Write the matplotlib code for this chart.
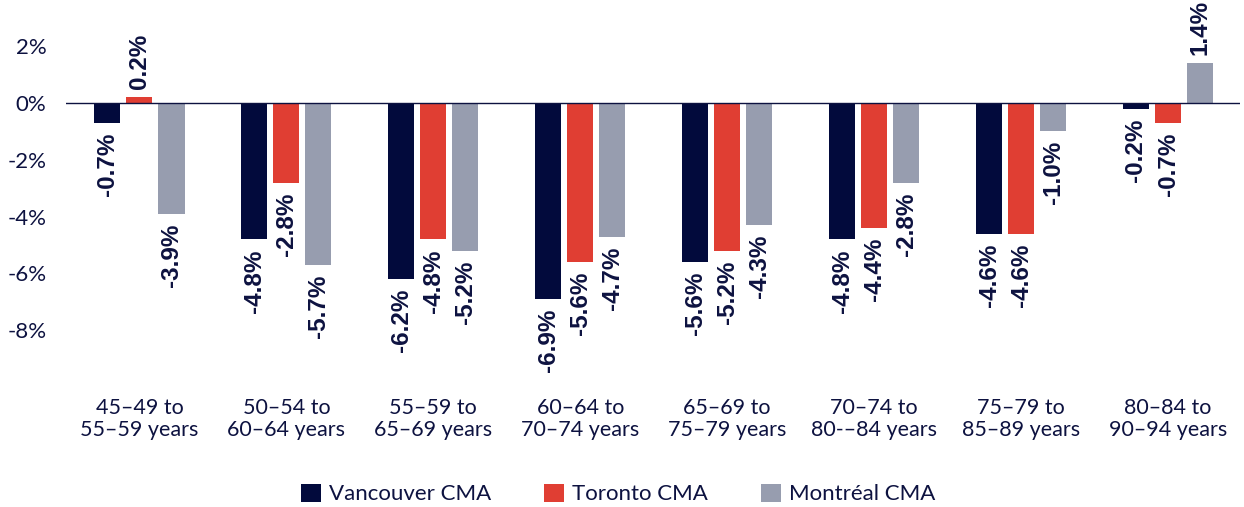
import matplotlib
matplotlib.use("Agg")
import matplotlib.pyplot as plt
import numpy as np

categories = ["45–49 to\n55–59 years", "50–54 to\n60–64 years", "55–59 to\n65–69 years",
              "60–64 to\n70–74 years", "65–69 to\n75–79 years", "70–74 to\n80-–84 years",
              "75–79 to\n85–89 years", "80–84 to\n90–94 years"]
series_names = ["Vancouver CMA", "Toronto CMA", "Montréal CMA"]
vancouver = [-0.7, -4.8, -6.2, -6.9, -5.6, -4.8, -4.6, -0.2]
toronto = [0.2, -2.8, -4.8, -5.6, -5.2, -4.4, -4.6, -0.7]
montreal = [-3.9, -5.7, -5.2, -4.7, -4.3, -2.8, -1.0, 1.4]
yticks = [2, 0, -2, -4, -6, -8]

colors = ["#020a3c", "#e03e33", "#979daf"]
text_color = "#0d1240"

W, H = 1244, 507
fig = plt.figure(figsize=(W / 100, H / 100), dpi=100)
left, right = 66, 1240
top, bottom = 0, 380
ax = fig.add_axes([left / W, 1 - bottom / H, (right - left) / W, (bottom - top) / H])

x = np.arange(len(categories))
width = 0.177
offset = 0.218
for i, (vals, c) in enumerate(zip([vancouver, toronto, montreal], colors)):
    xs = x + (i - 1) * offset
    ax.bar(xs, vals, width=width, color=c, label=series_names[i], zorder=2)
    for xi, v in zip(xs, vals):
        if v >= 0:
            ax.annotate(f"{v:.1f}%", (xi, v), xytext=(0, 6), textcoords="offset points",
                        rotation=90, ha="center", va="bottom", fontsize=17.5,
                        fontweight="bold", family="Liberation Sans", color=text_color)
        else:
            ax.annotate(f"{v:.1f}%", (xi, v), xytext=(0, -7), textcoords="offset points",
                        rotation=90, ha="center", va="top", fontsize=17.5,
                        fontweight="bold", family="Liberation Sans", color=text_color)

ax.axhline(0, color=text_color, linewidth=1.0, zorder=3)
ax.set_xlim(-0.5, 7.49)
ax.set_ylim(-9.75, 3.63)
ax.set_yticks(yticks)
ax.set_yticklabels([f"{t}%" for t in yticks], fontsize=16, family="Lato", color=text_color)
ax.set_xticks(x)
ax.set_xticklabels(categories, fontsize=15.5, family="Lato", color=text_color, linespacing=1.15)
ax.tick_params(axis="both", length=0)
ax.tick_params(axis="y", pad=14)
ax.tick_params(axis="x", pad=13)
for s in ax.spines.values():
    s.set_visible(False)

leg = fig.legend(loc="center", bbox_to_anchor=(618 / W, 1 - 494 / H), ncol=3, frameon=False,
                 prop={"family": "Lato", "size": 16}, handlelength=0.9, handleheight=0.9,
                 handletextpad=0.35, columnspacing=2.4)
for t in leg.get_texts():
    t.set_color(text_color)

fig.savefig("out.png", dpi=100)
